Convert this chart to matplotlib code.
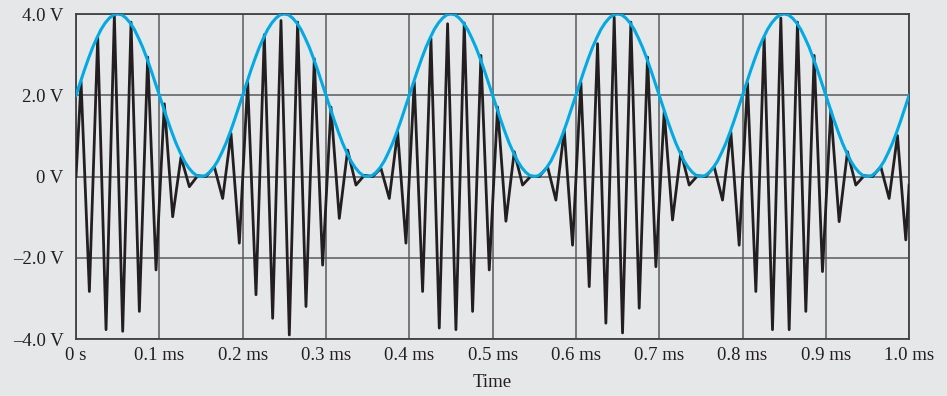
import numpy as np
import matplotlib.pyplot as plt

# time axis in ms
# modulated signal: extrema (every 0.01 ms, starting 0.005 ms)
sig_t0 = [0.0]
sig_v0 = [0.0]
sig_v = [
    2.34, -2.83, 3.43, -3.77, 3.96, -3.81, 3.80, -3.32, 2.94, -2.30,
    1.79, -0.99, 0.48, -0.25, 0.02, 0.00, 0.24, -0.54, 1.06, -1.64,
    2.32, -2.91, 3.49, -3.49, 3.84, -3.90, 3.80, -3.20, 2.90, -2.18,
    1.71, -1.03, 0.65, -0.21, 0.03, 0.00, 0.20, -0.54, 1.10, -1.64,
    2.32, -2.83, 3.40, -3.73, 3.76, -3.77, 3.78, -3.32, 2.98, -2.30,
    1.71, -1.10, 0.61, -0.21, 0.01, 0.00, 0.24, -0.58, 1.14, -1.69,
    2.32, -2.71, 3.27, -3.61, 3.92, -3.85, 3.80, -3.24, 2.94, -2.22,
    1.60, -1.07, 0.61, -0.21, 0.02, 0.00, 0.24, -0.58, 1.10, -1.69,
    2.30, -2.83, 3.43, -3.77, 3.90, -3.77, 3.80, -3.32, 2.98, -2.34,
    1.63, -1.11, 0.61, -0.21, 0.02, 0.00, 0.24, -0.54, 1.01, -1.56,
]
sig_t_end = [1.0]
sig_v_end = [-0.21]

# envelope, read every 0.005 ms
env_v = [
    2.00, 2.31, 2.62, 2.91, 3.18, 3.41, 3.62, 3.78, 3.90, 3.98, 4.00, 3.98, 3.90, 3.78, 3.62, 3.41, 3.18, 2.91, 2.62, 2.31,
    2.00, 1.69, 1.38, 1.09, 0.82, 0.59, 0.38, 0.22, 0.10, 0.02, 0.00, 0.02, 0.10, 0.22, 0.38, 0.59, 0.82, 1.09, 1.38, 1.69,
    2.00, 2.31, 2.62, 2.91, 3.18, 3.41, 3.62, 3.78, 3.90, 3.98, 4.00, 3.98, 3.90, 3.78, 3.62, 3.41, 3.18, 2.91, 2.62, 2.31,
    2.00, 1.69, 1.38, 1.09, 0.82, 0.59, 0.38, 0.22, 0.10, 0.02, 0.00, 0.02, 0.10, 0.22, 0.38, 0.59, 0.82, 1.09, 1.38, 1.69,
    2.00, 2.31, 2.62, 2.91, 3.18, 3.41, 3.62, 3.78, 3.90, 3.98, 4.00, 3.98, 3.90, 3.78, 3.62, 3.41, 3.18, 2.91, 2.62, 2.31,
    2.00, 1.69, 1.38, 1.09, 0.82, 0.59, 0.38, 0.22, 0.10, 0.02, 0.00, 0.02, 0.10, 0.22, 0.38, 0.59, 0.82, 1.09, 1.38, 1.69,
    2.00, 2.31, 2.62, 2.91, 3.18, 3.41, 3.62, 3.78, 3.90, 3.98, 4.00, 3.98, 3.90, 3.78, 3.62, 3.41, 3.18, 2.91, 2.62, 2.31,
    2.00, 1.69, 1.38, 1.09, 0.82, 0.59, 0.38, 0.22, 0.10, 0.02, 0.00, 0.02, 0.10, 0.22, 0.38, 0.59, 0.82, 1.09, 1.38, 1.69,
    2.00, 2.31, 2.62, 2.91, 3.18, 3.41, 3.62, 3.78, 3.90, 3.98, 4.00, 3.98, 3.90, 3.78, 3.62, 3.41, 3.18, 2.91, 2.62, 2.31,
    2.00, 1.69, 1.38, 1.09, 0.82, 0.59, 0.38, 0.22, 0.10, 0.02, 0.00, 0.02, 0.10, 0.22, 0.38, 0.59, 0.82, 1.09, 1.38, 1.69,
    2.00,
]

x_ticks = [0.0, 0.1, 0.2, 0.3, 0.4, 0.5, 0.6, 0.7, 0.8, 0.9, 1.0]
x_labels = ['0 s', '0.1 ms', '0.2 ms', '0.3 ms', '0.4 ms', '0.5 ms',
            '0.6 ms', '0.7 ms', '0.8 ms', '0.9 ms', '1.0 ms']
y_ticks = [-4, -2, 0, 2, 4]
y_labels = ['\u20134.0 V', '\u20132.0 V', '0 V', '2.0 V', '4.0 V']

bg = '#e6e7e8'
plt.rcParams['font.family'] = ['Liberation Serif', 'DejaVu Serif']

sig_t = sig_t0 + list(0.006 + 0.01 * np.arange(len(sig_v))) + sig_t_end
sig_all = sig_v0 + sig_v + sig_v_end
env_t = np.linspace(0, 1.0, len(env_v))

fig = plt.figure(figsize=(9.47, 3.96), dpi=100, facecolor=bg)
ax = fig.add_axes([0.0803, 0.1439, 0.8797, 0.8207], facecolor=bg)

ax.plot(sig_t, sig_all, color='#231f20', lw=2.0, solid_joinstyle='round', zorder=3)
ax.plot(env_t, env_v, color='#00aae4', lw=2.2, zorder=4)

ax.set_xlim(0, 1.0)
ax.set_ylim(-4, 4)
ax.set_xticks(x_ticks)
ax.set_xticklabels(x_labels)
ax.set_yticks(y_ticks)
ax.set_yticklabels(y_labels)
ax.tick_params(length=0, labelsize=13.5, colors='#231f20')
ax.tick_params(axis='y', pad=9)
ax.tick_params(axis='x', pad=6)
ax.grid(True, color='#58595b', lw=1.1)
ax.set_axisbelow(True)
for s in ax.spines.values():
    s.set_color('#414042')
    s.set_linewidth(1.3)

ax.set_xlabel('Time', fontsize=13.5, color='#231f20', labelpad=7)

fig.savefig('out.png', dpi=100, facecolor=bg)
